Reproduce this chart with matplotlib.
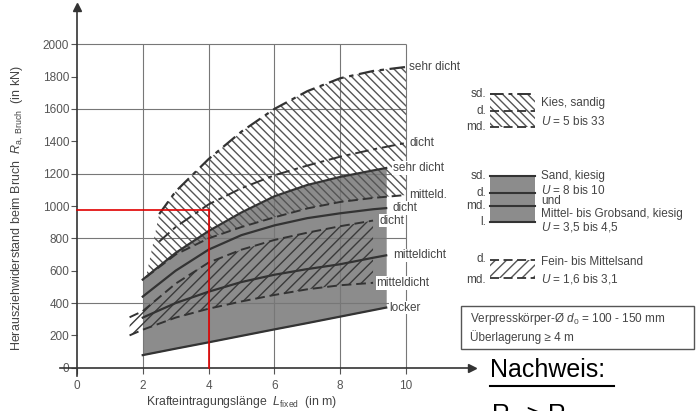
import numpy as np
import matplotlib
matplotlib.use("Agg")
import matplotlib.pyplot as plt
from matplotlib.patches import Rectangle

plt.rcParams['font.family'] = ['Liberation Sans', 'DejaVu Sans']
plt.rcParams['mathtext.fontset'] = 'custom'
plt.rcParams['mathtext.rm'] = 'Liberation Sans'
plt.rcParams['mathtext.it'] = 'Liberation Sans:italic'
plt.rcParams['hatch.linewidth'] = 1.0

# ---- data (L in m, R in kN) ----
# Kies, sandig
kies_sd_x = [2.5, 3, 4, 5, 6, 7, 8, 9, 10]
kies_sd_y = [950, 1090, 1290, 1460, 1600, 1710, 1790, 1835, 1860]
kies_d_x = [2.5, 3, 4, 5, 6, 7, 8, 9, 10]
kies_d_y = [780, 870, 1010, 1110, 1190, 1250, 1305, 1350, 1390]
kies_md_x = [2.1, 3, 4, 5, 6, 7, 8, 9, 10]
kies_md_y = [560, 700, 800, 870, 930, 985, 1025, 1050, 1068]

# Sand, kiesig / Mittel- bis Grobsand
sand_x = [2, 3, 4, 5, 6, 7, 8, 9, 9.4]
sand_sd_y = [545, 710, 845, 960, 1060, 1130, 1180, 1220, 1235]
sand_d_y = [440, 600, 730, 820, 880, 925, 955, 980, 987]
sand_md_y = [310, 400, 470, 530, 575, 610, 640, 680, 695]
sand_l_y = [78, 118, 157, 197, 237, 276, 316, 356, 372]

# Fein- bis Mittelsand
fein_x = [1.6, 2, 3, 4, 5, 6, 7, 8, 9]
fein_d_y = [312, 350, 520, 650, 730, 790, 835, 875, 910]
fein_md_y = [200, 235, 310, 365, 410, 450, 485, 510, 525]

# example reading
read_L = 4
read_R = 978

xticks = [0, 2, 4, 6, 8, 10]
yticks = list(range(0, 2001, 200))
grid_x = [2, 4, 6, 8, 10]
grid_y = [400, 800, 1200, 1600, 2000]

ink = '#333333'
txt = '#444444'
grey = '#8c8c8c'
dashdot = (0, (7, 2.5, 2, 2.5))
dashed = (0, (5, 2.5))
kies_hatch = '\\' * 4
fein_hatch = '///'

fig = plt.figure(figsize=(6.96, 4.11), dpi=100)
ax = fig.add_axes([0.0869, 0.0856, 0.5909, 0.8971])
ax.set_xlim(-0.5, 12)
ax.set_ylim(-50, 2230)

# grid (only up to 10 m / 2000 kN)
ax.vlines(grid_x, 0, 2000, color='#777777', lw=0.8, zorder=1.5)
ax.hlines(grid_y, 0, 10, color='#777777', lw=0.8, zorder=1.5)

# sand region
ax.fill_between(sand_x, sand_l_y, sand_sd_y, color=grey, lw=0, zorder=1)

# Kies hatch
kx = np.concatenate([kies_sd_x, kies_md_x[::-1]])
ky = np.concatenate([kies_sd_y, kies_md_y[::-1]])
ax.fill(kx, ky, facecolor='none', edgecolor='#555555', hatch=kies_hatch, lw=0, zorder=2)

# Fein hatch
fx = np.concatenate([fein_x, fein_x[::-1]])
fy = np.concatenate([fein_d_y, fein_md_y[::-1]])
ax.fill(fx, fy, facecolor='none', edgecolor='#3a3a3a', hatch=fein_hatch, lw=0, zorder=2)

# boundary lines
ax.plot(kies_sd_x, kies_sd_y, color=ink, lw=1.6, ls=dashdot, zorder=3)
ax.plot(kies_d_x, kies_d_y, color=ink, lw=1.4, ls=dashdot, zorder=3)
ax.plot(kies_md_x, kies_md_y, color=ink, lw=1.4, ls=dashed, zorder=3)
for yy in [sand_sd_y, sand_d_y, sand_md_y, sand_l_y]:
    ax.plot(sand_x, yy, color=ink, lw=1.6, zorder=3)
ax.plot(fein_x, fein_d_y, color=ink, lw=1.4, ls=dashed, zorder=3)
ax.plot(fein_x, fein_md_y, color=ink, lw=1.4, ls=dashed, zorder=3)

# curve labels on the right
lab = dict(fontsize=8.5, color=txt, va='center', ha='left', zorder=5)
wbg = dict(facecolor='white', edgecolor='none', pad=0.5)
ax.text(kies_sd_x[-1] + 0.1, kies_sd_y[-1], 'sehr dicht', **lab)
ax.text(kies_d_x[-1] + 0.1, kies_d_y[-1], 'dicht', bbox=wbg, **lab)
ax.text(sand_x[-1] + 0.2, sand_sd_y[-1], 'sehr dicht', bbox=wbg, **lab)
ax.text(kies_md_x[-1] + 0.1, kies_md_y[-1], 'mitteld.', bbox=wbg, **lab)
ax.text(sand_x[-1] + 0.2, sand_d_y[-1], 'dicht', bbox=wbg, **lab)
ax.text(fein_x[-1] + 0.2, fein_d_y[-1], 'dicht', bbox=wbg, **lab)
ax.text(sand_x[-1] + 0.2, sand_md_y[-1], 'mitteldicht', bbox=wbg, **lab)
ax.text(fein_x[-1] + 0.1, fein_md_y[-1], 'mitteldicht', bbox=wbg, **lab)
ax.text(sand_x[-1] + 0.1, sand_l_y[-1], 'locker', bbox=wbg, **lab)

# red reading lines
ax.plot([read_L, read_L], [0, read_R], color='#e00000', lw=1.2, zorder=4)
ax.plot([0, read_L], [read_R, read_R], color='#e00000', lw=1.2, zorder=4)

# axes with arrows
for s in ['top', 'right']:
    ax.spines[s].set_visible(False)
ax.spines['left'].set_position(('data', 0))
ax.spines['bottom'].set_position(('data', 0))
for s in ['left', 'bottom']:
    ax.spines[s].set_color(ink)
    ax.spines[s].set_linewidth(1.2)
ax.plot(12, 0, '>', color=ink, ms=6, clip_on=False, zorder=5)
ax.plot(0, 2230, '^', color=ink, ms=6, clip_on=False, zorder=5)
ax.set_xticks(xticks)
ax.set_yticks(yticks)
ax.tick_params(axis='x', length=4, pad=5, labelsize=8.5, colors='#555555')
ax.tick_params(axis='y', length=4, pad=1.5, labelsize=8.5, colors='#555555')

fig.text(18 / 696, 1 - 208 / 411,
         r'Herausziehwiderstand beim Bruch  $R_{\rm a,\ Bruch}$  (in kN)',
         rotation=90, ha='center', va='center', fontsize=9, color=txt)
fig.text(242 / 696, 1 - 402 / 411,
         r'Krafteintragungslänge  $L_{\rm fixed}$  (in m)',
         ha='center', va='center', fontsize=8.8, color=txt)

# ---- legend area (pixel coordinates) ----
lg = fig.add_axes([0, 0, 1, 1])
lg.set_xlim(0, 696)
lg.set_ylim(411, 0)
lg.axis('off')
lt = dict(fontsize=8.5, color=txt, va='center')

# Kies
lg.add_patch(Rectangle((490, 94), 45, 33, facecolor='none', edgecolor='#555555',
                       hatch=kies_hatch, lw=0))
lg.plot([490, 535], [94, 94], color=ink, lw=1.4, ls=dashdot)
lg.plot([490, 535], [111, 111], color=ink, lw=1.3, ls=dashed)
lg.plot([490, 535], [127, 127], color=ink, lw=1.3, ls=dashed)
for t, y in [('sd.', 94), ('d.', 111), ('md.', 127)]:
    lg.text(486, y, t, ha='right', **lt)
lg.text(541, 103, 'Kies, sandig', ha='left', **lt)
lg.text(541, 121, r'$U$ = 5 bis 33', ha='left', **lt)

# Sand
lg.add_patch(Rectangle((490, 176), 45, 46, facecolor=grey, lw=0))
for y in [176, 193, 206, 222]:
    lg.plot([490, 535], [y, y], color=ink, lw=1.5)
for t, y in [('sd.', 176), ('d.', 193), ('md.', 206), ('l.', 222)]:
    lg.text(486, y, t, ha='right', **lt)
lg.text(541, 176, 'Sand, kiesig', ha='left', **lt)
lg.text(541, 190, r'$U$ = 8 bis 10', ha='left', **lt)
lg.text(541, 201, 'und', ha='left', **lt)
lg.text(541, 214, 'Mittel- bis Grobsand, kiesig', ha='left', **lt)
lg.text(541, 227, r'$U$ = 3,5 bis 4,5', ha='left', **lt)

# Fein
lg.add_patch(Rectangle((490, 260), 45, 18, facecolor='none', edgecolor='#555555',
                       hatch=fein_hatch, lw=0))
lg.plot([490, 535], [260, 260], color=ink, lw=1.3, ls=dashed)
lg.plot([490, 535], [278, 278], color=ink, lw=1.3, ls=dashed)
lg.text(486, 259, 'd.', ha='right', **lt)
lg.text(486, 280, 'md.', ha='right', **lt)
lg.text(541, 262, 'Fein- bis Mittelsand', ha='left', **lt)
lg.text(541, 279, r'$U$ = 1,6 bis 3,1', ha='left', **lt)

# info box
lg.add_patch(Rectangle((461, 306), 233, 43, facecolor='white', edgecolor='#555555', lw=1.0))
lg.text(470, 319, r'Verpresskörper-Ø $d_0$ = 100 - 150 mm', ha='left', **lt)
lg.text(470, 337, 'Überlagerung ≥ 4 m', ha='left', **lt)

# Nachweis
lg.text(490, 377, 'Nachweis:', fontsize=18, color='black', ha='left', va='baseline')
lg.plot([490, 614], [386, 386], color='black', lw=1.5)
lg.text(491, 423, r'R$_a$ ≥ R$_d$', fontsize=18, color='black', ha='left', va='baseline')

fig.savefig('out.png', dpi=100)
